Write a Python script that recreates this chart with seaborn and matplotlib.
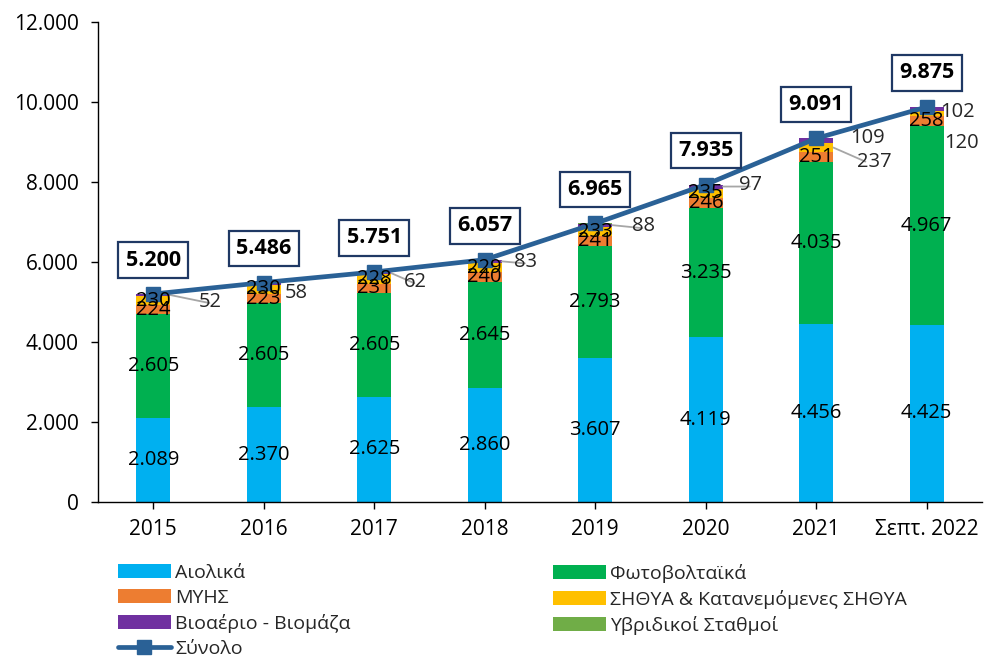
import matplotlib
matplotlib.use("Agg")
import matplotlib.pyplot as plt
import seaborn as sns
import numpy as np
from matplotlib.ticker import FuncFormatter, MultipleLocator
from matplotlib.patches import Patch
from matplotlib.lines import Line2D

# ---------------- data ----------------
categories = ["2015", "2016", "2017", "2018", "2019", "2020", "2021", "Σεπτ. 2022"]
aiolika = [2089, 2370, 2625, 2860, 3607, 4119, 4456, 4425]
fotovoltaika = [2605, 2605, 2605, 2645, 2793, 3235, 4035, 4967]
myhs = [224, 223, 231, 240, 241, 246, 251, 258]
sithya = [230, 230, 228, 229, 233, 235, 237, 120]
bio = [52, 58, 62, 83, 88, 97, 109, 102]
hybrid = [0, 0, 0, 0, 3, 3, 3, 3]
total = [5200, 5486, 5751, 6057, 6965, 7935, 9091, 9875]

series_names = ["Αιολικά", "Φωτοβολταϊκά", "ΜΥΗΣ", "ΣΗΘΥΑ & Κατανεμόμενες ΣΗΘΥΑ",
                "Βιοαέριο - Βιομάζα", "Υβριδικοί Σταθμοί"]
total_name = "Σύνολο"

# ---------------- style ----------------
colors = ["#00B0F0", "#00B050", "#ED7D31", "#FFC000", "#7030A0", "#70AD47"]
line_color = "#2A6196"
box_edge = "#1F3864"
leader_color = "#A6A6A6"

sns.set_style("white")
plt.rcParams["font.family"] = ["Open Sans", "DejaVu Sans"]

W, H = 984, 659
fig = plt.figure(figsize=(W / 100, H / 100), dpi=100)
ax = fig.add_axes([98 / W, 1 - 502 / H, (982 - 98) / W, (502 - 22) / H])

PX = 0.72  # points per pixel at dpi 100
bar_w = 0.31


def fmt(v):
    return f"{int(v):,}".replace(",", ".")


all_series = [aiolika, fotovoltaika, myhs, sithya, bio, hybrid]
bottom = np.zeros(len(categories))
bottoms = []
for vals, col in zip(all_series, colors):
    bottoms.append(bottom.copy())
    sns.barplot(x=categories, y=vals, bottom=bottom.copy(), color=col, width=bar_w,
                saturation=1, ax=ax, linewidth=0)
    bottom = bottom + np.array(vals)

x = np.arange(len(categories))
ax.plot(x, total, color=line_color, lw=3.4, marker="s", markersize=10,
        markerfacecolor=line_color, markeredgecolor=line_color, zorder=5)

lab_fs = 14.5
# labels inside bars: wind, PV, MYHS, and SITHYA (except last two years)
for i in range(len(categories)):
    for k in (0, 1, 2):
        v = all_series[k][i]
        ax.text(i, bottoms[k][i] + v / 2, fmt(v), ha="center",
                va="center", fontsize=lab_fs, color="black", zorder=6)
    if i < 6:
        v = sithya[i]
        ax.text(i, bottoms[3][i] + v / 2, fmt(v), ha="center",
                va="center", fontsize=lab_fs, color="black", zorder=6)

# outside labels for bio (offset in px: right, down) and leader lines
bio_off = [(57, 8), (32, 10), (41, 10), (41, 2), (48, 3), (45, 0), (51, 0), (31, 5)]
bio_leader = [True, False, True, True, True, True, False, False]
for i in range(len(categories)):
    ytop = total[i]
    dx, dy = bio_off[i]
    ax.annotate(f"{bio[i]}", xy=(i, ytop), xycoords="data",
                xytext=(dx * PX, -dy * PX), textcoords="offset points",
                ha="center", va="center", fontsize=lab_fs, zorder=6)
    if bio_leader[i]:
        ax.annotate("", xy=(i + bar_w / 2, ytop - bio[i] / 2), xycoords="data",
                    xytext=((dx - 18) * PX, -dy * PX), textcoords="offset points",
                    arrowprops=dict(arrowstyle="-", color=leader_color, lw=1.3,
                                    shrinkA=0, shrinkB=0), zorder=4)

# outside sithya labels for last two years
sith_off = {6: (58, 14), 7: (35, 29)}
for i, (dx, dy) in sith_off.items():
    yc = bottoms[3][i] + sithya[i] / 2
    ax.annotate(f"{sithya[i]}", xy=(i, yc), xytext=(dx * PX, -dy * PX),
                textcoords="offset points", ha="center", va="center", fontsize=lab_fs,
                zorder=6)
    if i == 6:
        ax.annotate("", xy=(i + bar_w / 2, yc), xycoords="data",
                    xytext=((dx - 26) * PX, -dy * PX), textcoords="offset points",
                    arrowprops=dict(arrowstyle="-", color=leader_color, lw=1.3,
                                    shrinkA=0, shrinkB=0), zorder=4)

# total labels in boxes
for i, t in enumerate(total):
    ax.annotate(fmt(t), xy=(i, t), xytext=(0, 34 * PX),
                textcoords="offset points", ha="center", va="center",
                fontsize=15.5, fontweight="bold", color="black", zorder=7,
                bbox=dict(boxstyle="square,pad=0.34", fc="white", ec=box_edge, lw=1.6))

# axes
ax.set_ylim(0, 12000)
ax.set_xlim(-0.5, len(categories) - 0.5)
ax.yaxis.set_major_locator(MultipleLocator(2000))
ax.yaxis.set_major_formatter(FuncFormatter(lambda v, p: fmt(v)))
for s in ["top", "right"]:
    ax.spines[s].set_visible(False)
for s in ["left", "bottom"]:
    ax.spines[s].set_color("black")
    ax.spines[s].set_linewidth(1.0)
ax.tick_params(axis="both", which="major", direction="out", length=5, width=1,
               color="black", labelsize=15, labelcolor="black", left=True, bottom=True)
ax.tick_params(axis="x", pad=7)
ax.tick_params(axis="y", pad=9)
ax.set_xlabel("")
ax.set_ylabel("")
ax.grid(False)

# legends
handles = [Patch(facecolor=c, edgecolor="none") for c in colors]
line_handle = Line2D([0], [0], color=line_color, lw=3.4, marker="s", markersize=10,
                     markerfacecolor=line_color, markeredgecolor=line_color)
col1 = [handles[0], handles[2], handles[4], line_handle]
col1_l = [series_names[0], series_names[2], series_names[4], total_name]
col2 = [handles[1], handles[3], handles[5]]
col2_l = [series_names[1], series_names[3], series_names[5]]
leg_kw = dict(loc="upper left", frameon=False, fontsize=14, handlelength=2.7,
              handletextpad=0.25, labelspacing=0.36, borderpad=0, borderaxespad=0,
              handleheight=0.7)
fig.legend(col1, col1_l, bbox_to_anchor=(118 / W, 1 - 564 / H), **leg_kw)
fig.legend(col2, col2_l, bbox_to_anchor=(553 / W, 1 - 564 / H), **leg_kw)

fig.savefig("out.png", dpi=100)
